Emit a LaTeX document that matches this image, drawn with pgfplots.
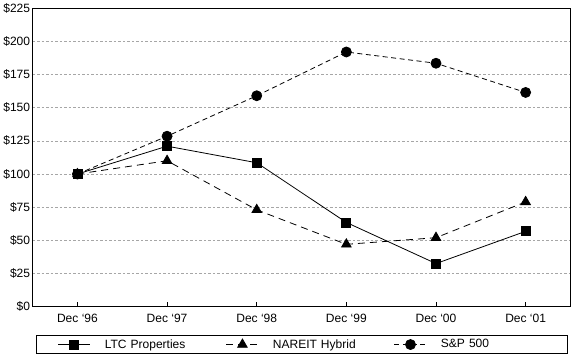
\documentclass[border=0pt]{standalone}
\usepackage{pgfplots}
\pgfplotsset{compat=1.18}
\usepackage{fontspec}
\setmainfont{Liberation Sans}
\begin{document}
\begin{tikzpicture}[x=1pt,y=1pt]
\begin{axis}[
  scale only axis,
  width=537pt, height=298pt,
  xmin=-0.5, xmax=5.5,
  ymin=0, ymax=225,
  xtick={0,1,2,3,4,5},
  xticklabels={Dec ‘96,Dec ‘97,Dec ‘98,Dec ‘99,Dec ‘00,Dec ‘01},
  ytick={0,25,50,75,100,125,150,175,200,225},
  yticklabel={\$\pgfmathprintnumber{\tick}},
  /pgf/number format/assume math mode=true,
  tick label style={font=\fontsize{12}{14}\selectfont},
  xticklabel style={yshift=-4pt},
  yticklabel style={xshift=1pt},
  xtick pos=bottom, ytick pos=left,
  tick align=inside,
  major tick length=5pt,
  ytick style={draw=none},
  xtick style={black, line width=0.6pt},
  ymajorgrids,
  major grid style={gray!70, dash pattern=on 2.5pt off 2pt, line width=0.6pt},
  axis line style={line width=1.1pt},
  legend columns=3,
  legend cell align=left,
  legend style={at={(0.5,-0.095)}, anchor=north, draw=black, line width=0.8pt,
    inner xsep=22pt, inner ysep=2pt,
    font=\fontsize{12}{14}\selectfont,
    nodes={text width=90pt, inner xsep=14pt},
    /tikz/every even column/.append style={column sep=17pt}},
  legend image code/.code={\draw[mark repeat=2,mark phase=2,#1] plot coordinates {(0pt,0pt) (16pt,0pt) (32pt,0pt)};},
]
\addplot[black, line width=0.8pt, mark=square*, mark size=4.5pt, mark options={solid}]
  coordinates {(0,100) (1,121) (2,108.5) (3,63.5) (4,32.5) (5,56.8)};
\addlegendentry{LTC Properties}
\addplot[black, line width=0.8pt, dash pattern=on 7pt off 5pt, mark=triangle*, mark size=5.5pt, mark options={solid}]
  coordinates {(0,100) (1,110) (2,73) (3,47) (4,52) (5,79)};
\addlegendentry{NAREIT Hybrid}
\addplot[black, line width=0.8pt, dash pattern=on 5pt off 3.5pt, mark=*, mark size=5pt, mark options={solid}]
  coordinates {(0,100) (1,128.5) (2,159) (3,192) (4,183.5) (5,161.5)};
\addlegendentry{S\&P 500}
\end{axis}
\end{tikzpicture}
\end{document}
